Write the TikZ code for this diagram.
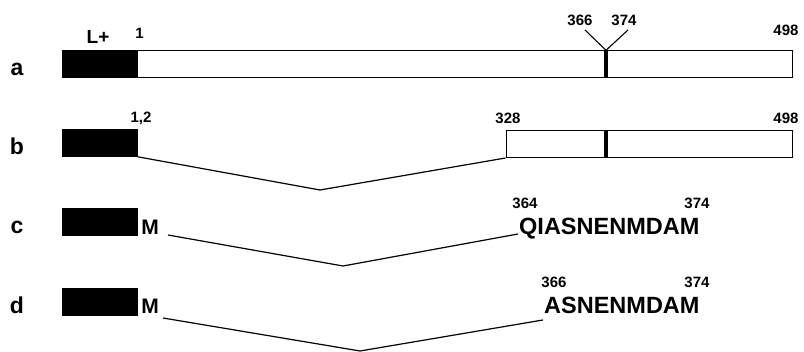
\documentclass[tikz,border=0pt]{standalone}
\usepackage{fontspec}
\setmainfont{Liberation Sans}
\tikzset{
  leaderbox/.style={fill=black, draw=black, minimum width=75pt, minimum height=27pt, inner sep=0pt},
  chainbox/.style={draw=black, fill=white, line width=1pt, minimum height=27pt, inner sep=0pt},
  motif/.style={fill=black, minimum width=4pt, minimum height=27pt, inner sep=0pt},
  rowlab/.style={font=\bfseries\fontsize{23}{23}\selectfont, inner sep=0pt, anchor=base},
  resnum/.style={font=\bfseries\fontsize{15}{15}\selectfont, inner sep=0pt},
  seq/.style={font=\bfseries\fontsize{23.5}{24}\selectfont, inner sep=0pt, anchor=base west},
  splice/.style={line width=1.2pt},
}

\begin{document}
\begin{tikzpicture}[x=1pt,y=-1pt]
        \useasboundingbox (0,0) rectangle (804,352);
        % row labels and leader boxes
        \foreach \r/\y in {a/63.5,b/143,c/222,d/302}{
          \node[rowlab] (lab\r) at (17,\y+12) {\r};
          \node[leaderbox] (lead\r) at (99.5,\y) {};
        }
        \node[font=\bfseries\fontsize{19}{19}\selectfont, inner sep=0pt] (lplus) at (98,37) {L+};

        % a: full chain
        \node[chainbox, minimum width=655pt] (chaina) at (464.5,64) {};
        \node[motif] (motifa) at (606,64) {};
        \node[resnum] (na1) at (139.5,33) {1};
        \node[resnum] (na366) at (580,20) {366};
        \node[resnum] (na374) at (624,20) {374};
        \node[resnum] (na498) at (786,30) {498};
        \coordinate (t366) at (585,30);
        \coordinate (t374) at (628,30);
        \draw[line width=1.1pt] (t366) -- (motifa.north) -- (t374);

        % b: deletion 2-327
        \node[chainbox, minimum width=286pt] (chainb) at (649,144) {};
        \node[motif] (motifb) at (606,144) {};
        \node[resnum] (nb12) at (141,118) {1,2};
        \node[resnum] (nb328) at (508,118) {328};
        \node[resnum] (nb498) at (786,118) {498};
        \coordinate (vb) at (320,190);
        \draw[splice] (leadb.south east) -- (vb) -- (chainb.south west);

        % c and d: peptides
        \node[font=\bfseries\fontsize{21}{21}\selectfont, inner sep=0pt] (mc) at (150,227) {M};
        \node[font=\bfseries\fontsize{21}{21}\selectfont, inner sep=0pt] (md) at (150,306) {M};
        \node[seq] (seqc) at (519,235) {QIASNENMDAM};
        \node[seq] (seqd) at (544,314) {ASNENMDAM};
        \node[resnum] (nc364) at (525,203) {364};
        \node[resnum] (nc374) at (697,203) {374};
        \node[resnum] (nd366) at (554,282) {366};
        \node[resnum] (nd374) at (697,282) {374};
        \coordinate (sc) at (168,235);
        \coordinate (vc) at (343,266);
        \coordinate (ec) at (518,234);
        \coordinate (sd) at (163,318);
        \coordinate (vd) at (360,351);
        \coordinate (ed) at (543,320);
        \draw[splice] (sc) -- (vc) -- (ec);
        \draw[splice] (sd) -- (vd) -- (ed);
\end{tikzpicture}
\end{document}
